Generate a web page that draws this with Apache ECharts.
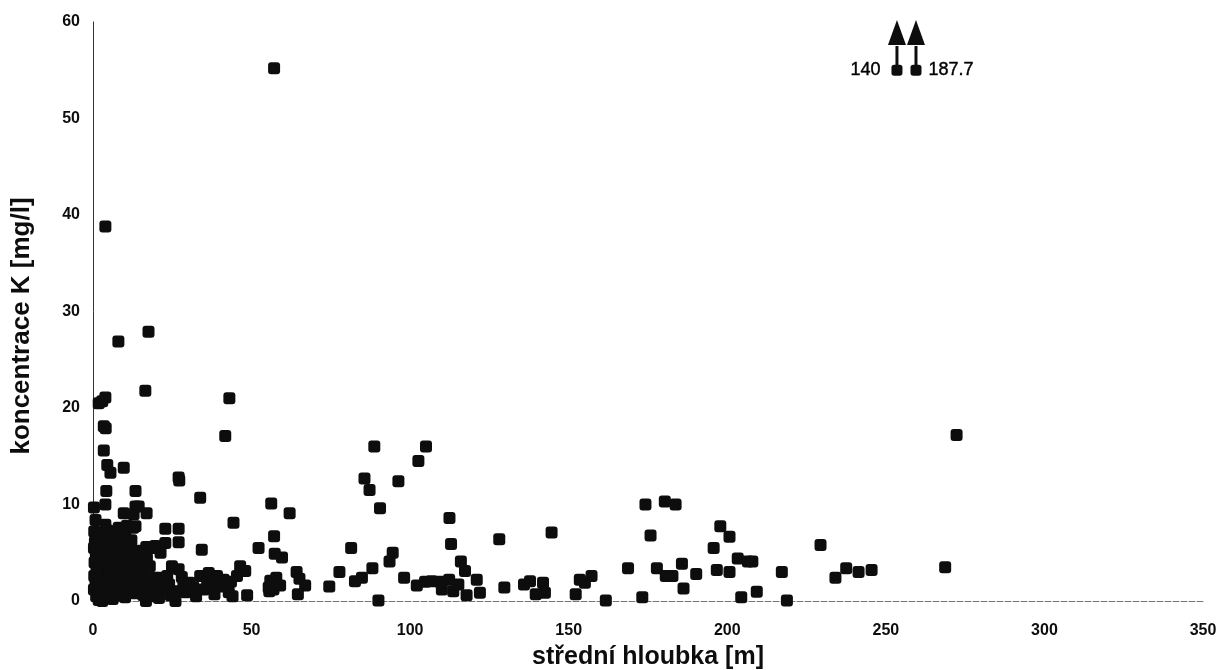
<!DOCTYPE html>
<html>
<head>
<meta charset="utf-8">
<title>koncentrace K</title>
<script src="https://cdn.jsdelivr.net/npm/echarts@6/dist/echarts.min.js"></script>
<style>
  html, body { margin: 0; padding: 0; background: #fff; }
  #chart { width: 1221px; height: 670px; }
</style>
</head>
<body>
<div id="chart"></div>
<script>
// Sampled wells: [mean depth (m), K concentration (mg/l)]
const samples = [
  [57.1, 55.2], [3.9, 38.8], [17.5, 27.9], [8.0, 26.9], [16.5, 21.8], [43.0, 21.0],
  [3.9, 21.1], [2.9, 20.7], [1.8, 20.5], [3.4, 18.1], [4.0, 17.9], [41.7, 17.1],
  [3.4, 15.6], [4.5, 14.1], [5.5, 13.3], [9.7, 13.8], [27.0, 12.8], [27.2, 12.5],
  [4.2, 11.4], [13.4, 11.4], [33.8, 10.7], [3.9, 10.0], [0.3, 9.7], [9.7, 9.1],
  [13.4, 9.8], [14.4, 9.8], [16.9, 9.1], [12.8, 9.0], [0.8, 8.4], [3.9, 7.9],
  [8.1, 7.6], [13.4, 7.75], [22.8, 7.5], [27.0, 7.5], [22.8, 6.0], [27.0, 6.1],
  [34.3, 5.3], [18.6, 5.5], [19.6, 5.7], [21.3, 5.0], [44.3, 8.1], [56.2, 10.1],
  [62.0, 9.1], [57.1, 6.7], [52.2, 5.5], [57.3, 4.9], [59.6, 4.5],
  [24.9, 3.6], [27.0, 3.3], [23.4, 2.6], [21.3, 2.4], [26.0, 1.0], [26.0, 0.0],
  [33.8, 2.6], [36.5, 2.9], [39.1, 2.6], [31.7, 1.4], [34.9, 1.2], [37.5, 1.5],
  [41.2, 2.2], [36.0, 1.9], [40.1, 1.5], [42.8, 0.9], [46.4, 3.6], [48.0, 3.1],
  [45.4, 2.6], [48.6, 0.6], [55.9, 2.1], [57.8, 2.4], [55.4, 1.4], [56.9, 1.2],
  [59.0, 1.6], [55.6, 1.0], [64.2, 3.0], [65.1, 2.3], [66.9, 1.6], [64.6, 0.7],
  [74.5, 1.5], [77.7, 3.0], [81.4, 5.5], [82.6, 2.05], [84.8, 2.4], [88.1, 3.4],
  [85.6, 12.7], [87.2, 11.5], [88.7, 16.0], [90.5, 9.6], [90.0, 0.05], [96.3, 12.4],
  [93.5, 4.1], [94.5, 5.0], [98.1, 2.4], [102.1, 1.6], [104.7, 2.0], [106.8, 2.05],
  [109.4, 2.0], [102.6, 14.5], [105.0, 16.0], [112.4, 8.6], [112.9, 5.9], [112.3, 2.2],
  [110.0, 1.2], [113.6, 1.0], [116.0, 4.1], [117.3, 3.1], [115.2, 1.7], [117.8, 0.6],
  [121.0, 2.2], [122.0, 0.85], [128.1, 6.4], [129.7, 1.4], [135.9, 1.7], [137.8, 2.05],
  [139.6, 0.7], [141.9, 1.9], [142.5, 0.85], [144.6, 7.1], [152.2, 0.7], [153.5, 2.2],
  [155.1, 1.9], [157.2, 2.6], [161.7, 0.05], [168.7, 3.4], [173.2, 0.4], [174.2, 10.0],
  [175.8, 6.8], [177.8, 3.4], [180.3, 10.3], [183.7, 10.0], [180.6, 2.6], [182.7, 2.6],
  [185.7, 3.85], [186.2, 1.3], [190.2, 2.8], [195.7, 5.5], [197.8, 7.75], [200.7, 6.65],
  [196.7, 3.2], [200.7, 3.0], [203.3, 4.4], [206.5, 4.1], [207.9, 4.1], [204.4, 0.4],
  [209.3, 0.95], [217.2, 3.0], [218.8, 0.05], [229.4, 5.8], [234.1, 2.4], [237.5, 3.4],
  [241.4, 3.0], [245.5, 3.2], [268.7, 3.5], [272.3, 17.2],
  // shallow wells (0-20 m)
  [0.4, 7.2], [0.6, 6.1], [0.3, 5.5], [0.9, 4.8], [0.5, 4.0], [1.1, 3.3], [0.4, 2.6],
  [0.8, 1.9], [0.3, 1.2], [1.0, 0.5], [2.1, 7.0], [2.6, 6.3], [3.1, 5.9], [2.4, 5.1],
  [3.3, 4.4], [2.7, 3.6], [3.2, 2.9], [2.2, 2.2], [3.0, 1.5], [2.5, 0.8], [2.9, 0.0],
  [4.6, 7.3], [5.2, 6.4], [4.8, 5.6], [5.5, 4.7], [4.4, 3.9], [5.1, 3.1], [4.7, 2.4],
  [5.6, 1.6], [4.9, 0.9], [4.1, 0.3], [6.6, 7.0], [7.3, 6.1], [6.9, 5.3], [7.6, 4.5],
  [6.7, 3.7], [7.4, 2.8], [6.8, 2.0], [7.7, 1.3], [7.1, 0.6], [8.8, 7.4], [9.4, 6.6],
  [8.7, 5.8], [9.6, 4.9], [9.0, 4.2], [9.8, 3.4], [8.9, 2.6], [9.5, 1.8], [9.1, 1.1],
  [10.7, 7.8], [11.7, 5.2], [10.6, 4.3], [11.3, 3.5], [11.8, 2.7], [10.8, 1.9], [11.5, 1.0],
  [12.7, 7.6], [12.9, 5.0], [13.8, 4.0], [13.1, 3.1], [12.6, 2.3], [13.9, 1.5], [13.2, 0.8],
  [14.9, 5.2], [15.6, 4.4], [14.7, 3.6], [15.8, 3.2], [15.9, 2.8], [15.2, 1.9], [14.6, 1.1],
  [16.8, 5.6], [17.0, 4.4], [17.6, 2.2], [16.7, 1.4], [16.7, 0.0], [18.1, 1.2], [19.7, 0.5],
  [19.3, 2.4], [19.0, 1.6], [20.8, 0.3], [22.5, 1.3], [24.0, 1.7], [24.5, 0.6], [28.0, 2.5],
  [28.5, 1.8], [29.3, 0.9], [30.4, 1.9], [32.5, 0.5], [38.3, 0.7], [43.5, 2.0], [44.0, 0.5],
  [1.6, 6.6], [1.4, 2.9], [6.1, 5.9], [8.2, 3.2], [10.2, 6.6], [12.1, 6.3], [10.1, 0.4],
  [12.2, 1.6], [14.1, 2.6], [15.9, 0.6], [6.2, 0.2], [1.8, 0.1], [17.9, 3.6], [7.9, 5.0]
];

// Two wells whose K concentration lies above the plotted range
const offScaleDepth = [253.5, 259.5];
const offScaleValue = [140, 187.7];
const capLevel = 55;

const xTicks = { min: 0, max: 350, interval: 50 };
const yTicks = { min: 0, max: 60, interval: 10 };

const FONT = "'Liberation Sans', Arial, sans-serif";
const INK = '#0d0d0d';

const chart = echarts.init(document.getElementById('chart'), null, { renderer: 'canvas' });

const offScalePoints = offScaleDepth.map((d, i) => ({
  value: [d, Math.min(offScaleValue[i], capLevel)],
  label: {
    show: true,
    position: i === 0 ? 'left' : 'right',
    distance: i === 0 ? 11 : 7,
    formatter: String(offScaleValue[i]),
    fontFamily: FONT,
    fontSize: 18,
    color: '#000',
    textBorderColor: '#000',
    textBorderWidth: 0.4,
    opacity: 1
  }
}));

chart.setOption({
  animation: false,
  backgroundColor: '#fff',
  grid: { left: 93, right: 18, top: 22, bottom: 69, outerBoundsMode: 'none', containLabel: false },
  xAxis: {
    type: 'value',
    min: xTicks.min, max: xTicks.max, interval: xTicks.interval,
    name: 'střední hloubka [m]',
    nameLocation: 'middle',
    nameGap: 44,
    nameTextStyle: { fontFamily: FONT, fontWeight: 'bold', fontSize: 25, color: INK },
    axisLine: { show: true, onZero: false, lineStyle: { color: '#777', width: 1, type: [6, 2] } },
    axisTick: { show: false },
    splitLine: { show: false },
    axisLabel: { margin: 22, fontFamily: FONT, fontWeight: 'bold', fontSize: 16, color: INK }
  },
  yAxis: {
    type: 'value',
    min: yTicks.min, max: yTicks.max, interval: yTicks.interval,
    axisLine: { show: true, lineStyle: { color: '#333', width: 1 } },
    axisTick: { show: false },
    splitLine: { show: false },
    axisLabel: { margin: 13, fontFamily: FONT, fontWeight: 'bold', fontSize: 16, color: INK }
  },
  graphic: [{
    type: 'text',
    x: 22, y: 326,
    rotation: Math.PI / 2,
    style: {
      text: 'koncentrace K [mg/l]',
      font: "bold 26px 'Liberation Sans', Arial, sans-serif",
      fill: INK,
      align: 'center',
      verticalAlign: 'middle'
    }
  }],
  series: [
    {
      type: 'scatter',
      symbol: 'roundRect',
      symbolSize: 12,
      itemStyle: { color: INK, opacity: 1 },
      data: samples
    },
    {
      type: 'custom',
      clip: false,
      data: offScaleDepth.map(d => [d, capLevel]),
      renderItem: function (params, api) {
        const base = api.coord([api.value(0), api.value(1)]);
        const tip = api.coord([api.value(0), yTicks.max]);
        const headBase = tip[1] + 23;
        return {
          type: 'group',
          children: [
            { type: 'line', shape: { x1: base[0], y1: base[1], x2: base[0], y2: headBase + 1 },
              style: { stroke: INK, lineWidth: 3 } },
            { type: 'polygon', shape: { points: [[base[0], tip[1] - 2], [base[0] - 9, headBase], [base[0] + 9, headBase]] },
              style: { fill: INK } }
          ]
        };
      }
    },
    {
      type: 'scatter',
      symbol: 'roundRect',
      symbolSize: 11,
      itemStyle: { color: INK, opacity: 1 },
      z: 3,
      data: offScalePoints
    }
  ]
});
</script>
</body>
</html>
